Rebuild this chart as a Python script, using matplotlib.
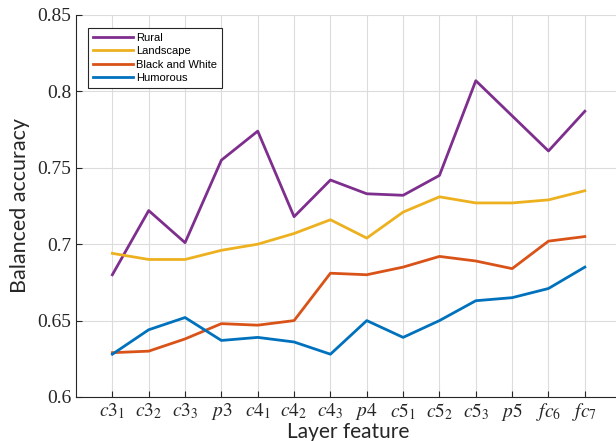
import matplotlib.pyplot as plt

plt.rcParams['mathtext.fontset'] = 'stix'

layers = [r'$c3_1$', r'$c3_2$', r'$c3_3$', r'$p3$', r'$c4_1$', r'$c4_2$', r'$c4_3$',
          r'$p4$', r'$c5_1$', r'$c5_2$', r'$c5_3$', r'$p5$', r'$fc_6$', r'$fc_7$']
rural = [0.680, 0.722, 0.701, 0.755, 0.774, 0.718, 0.742,
         0.733, 0.732, 0.745, 0.807, 0.784, 0.761, 0.787]
landscape = [0.694, 0.690, 0.690, 0.696, 0.700, 0.707, 0.716,
             0.704, 0.721, 0.731, 0.727, 0.727, 0.729, 0.735]
black_white = [0.629, 0.630, 0.638, 0.648, 0.647, 0.650, 0.681,
               0.680, 0.685, 0.692, 0.689, 0.684, 0.702, 0.705]
humorous = [0.628, 0.644, 0.652, 0.637, 0.639, 0.636, 0.628,
            0.650, 0.639, 0.650, 0.663, 0.665, 0.671, 0.685]

x = list(range(1, len(layers) + 1))

fig = plt.figure(figsize=(6.16, 4.41), dpi=100)
ax = fig.add_axes([0.1234, 0.0998, 0.885, 0.8662])

ax.plot(x, rural, color='#7E2F8E', lw=2, label='Rural')
ax.plot(x, landscape, color='#EDB120', lw=2, label='Landscape')
ax.plot(x, black_white, color='#D95319', lw=2, label='Black and White')
ax.plot(x, humorous, color='#0072BD', lw=2, label='Humorous')

ax.set_xlim(0, 15)
ax.set_ylim(0.6, 0.85)
ax.set_xticks(x)
ax.set_xticklabels(layers, fontsize=14)
ax.set_yticks([0.6, 0.65, 0.7, 0.75, 0.8, 0.85])
ax.set_yticklabels(['0.6', '0.65', '0.7', '0.75', '0.8', '0.85'],
                   family='Liberation Serif', fontsize=14)
ax.tick_params(direction='in', length=4, color='#262626', colors='#262626')
ax.tick_params(axis='x', pad=3)

ax.grid(True, color='#dcdcdc', lw=0.8)
ax.set_axisbelow(True)
for s in ['top', 'right']:
    ax.spines[s].set_visible(False)
for s in ['left', 'bottom']:
    ax.spines[s].set_color('#262626')
    ax.spines[s].set_linewidth(0.8)

ax.set_xlabel('Layer feature', family='Lato', fontsize=15, color='#262626', labelpad=-1)
ax.set_ylabel('Balanced accuracy', family='Lato', fontsize=15.5, color='#262626', labelpad=5)

leg = ax.legend(loc='upper left', bbox_to_anchor=(0.022, 0.966), borderaxespad=0,
                prop={'family': 'Liberation Sans', 'size': 8},
                handlelength=3.6, handletextpad=0.3, labelspacing=0.3,
                borderpad=0.45, fancybox=False, framealpha=1)
leg.get_frame().set_edgecolor('#262626')
leg.get_frame().set_linewidth(0.8)

fig.savefig('out.png')
